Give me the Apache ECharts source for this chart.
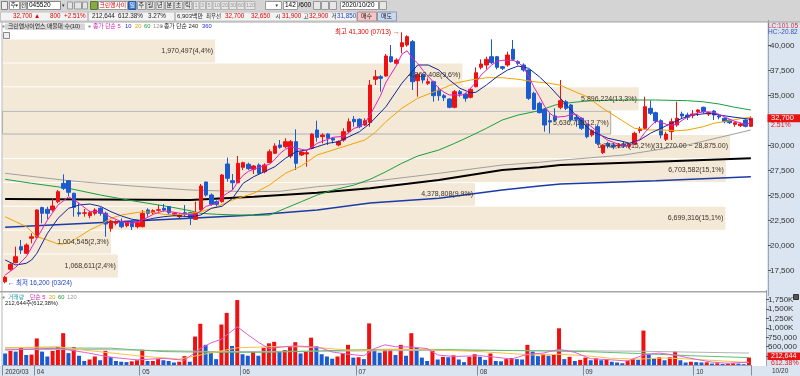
<!DOCTYPE html>
<html><head><meta charset="utf-8">
<script src="https://cdn.jsdelivr.net/npm/echarts/dist/echarts.min.js"></script>
<style>html,body{margin:0;padding:0;background:#fff}#c{width:800px;height:376px}</style>
</head><body><div id="c"></div>
<script>
// ---------- DATA ----------
const tradingDays = [
  ['03',[24,25,26,27,30,31]],
  ['04',[1,2,3,6,7,8,9,10,13,14,16,17,20,21,22,23,24,27,28,29]],
  ['05',[4,6,7,8,11,12,13,14,15,18,19,20,21,22,25,26,27,28,29]],
  ['06',[1,2,3,4,5,8,9,10,11,12,15,16,17,18,19,22,23,24,25,26,29,30]],
  ['07',[1,2,3,6,7,8,9,10,13,14,15,16,17,20,21,22,23,24,27,28,29,30,31]],
  ['08',[3,4,5,6,7,10,11,12,13,14,18,19,20,21,24,25,26,27,28,31]],
  ['09',[1,2,3,4,7,8,9,10,11,14,15,16,17,18,21,22,23,24,25,28,29]],
  ['10',[5,6,7,8,12,13,14,15,16,19,20]]
];
const opens = [16350,17600,18260,19860,19200,20700,20800,23770,23600,23530,
24360,26200,26460,25200,23260,23200,22960,23200,23700,23200,
21700,22200,22360,21960,22360,21860,21860,23530,23260,23500,
23700,23860,23030,22860,23260,23260,22600,23530,26330,25030,
24360,24360,28130,26460,26260,27800,28100,27600,28030,27360,
28260,29200,30030,29860,28930,30360,29030,29130,29700,31530,
30860,31130,30700,30030,30530,31360,32600,32600,32030,32300,
36600,36860,36930,38860,38200,39860,40030,40360,36460,37100,
36200,36360,35530,34960,34630,33800,35360,35130,34800,35860,
37800,38030,38860,38860,37860,38030,39600,38360,38030,37530,
35200,34200,33600,32460,32930,33800,34360,34030,32800,32700,
32030,31030,31860,29260,30200,30030,29930,30130,29900,30130,
31460,31700,33700,33260,32460,30600,31360,32030,33130,33030,
33000,33360,33800,33130,33430,32930,32700,32530,32100,31960,
32530,31900];
const highs = [16950,18200,19860,20530,20200,21200,23600,23860,23860,24700,
25530,27100,26530,25260,24200,23630,23460,23700,23800,23360,
22530,22500,22700,22400,22530,22400,23530,23700,23600,24030,
24130,23930,23300,23200,24030,23360,24360,26130,26360,25200,
24500,27130,28760,27130,28930,28360,28260,28030,28200,28200,
29600,30200,30530,30700,30530,31600,29400,29530,31200,32460,
31200,31200,30800,30500,31700,32700,32930,32700,32700,36530,
37530,37030,39130,40030,38700,41300,41000,40530,37200,37200,
36700,36460,35860,35130,34700,35530,35530,35260,35700,37800,
38600,38860,40600,38930,37930,39360,40530,38500,38200,37600,
35360,34360,33700,33200,33700,36530,34530,34130,33030,32800,
32200,31600,32030,30100,30360,30200,30200,30360,30260,31360,
31860,34860,34460,33360,32600,31360,32700,34360,33360,33260,
33530,33600,33860,33360,33530,33030,32800,32600,32360,32260,
32600,32900];
const lows = [16200,17460,18200,19130,19130,20200,20700,22200,22630,23360,
24200,25530,24930,22860,22860,22860,22700,23000,22960,20860,
21360,22000,21700,21800,21530,21700,21800,22860,23100,23360,
23360,23130,22900,22700,22860,22030,22530,23360,24860,23960,
23900,24260,26360,25530,26200,27530,27530,27130,27100,27200,
28200,29130,29660,29700,28700,27530,28930,27860,29600,30360,
30200,30030,30200,29900,30360,31200,31860,31700,31930,31860,
36030,35360,36860,38260,38030,39200,39860,35530,34860,36200,
36030,34360,34460,34430,33700,33700,34860,34360,34700,35800,
37600,37600,38130,37600,37530,37860,38460,38000,37360,34530,
33530,33200,31360,31200,32360,33600,33530,32360,31860,31530,
30700,30860,30030,29130,29700,29600,29700,29760,29700,30030,
31200,31530,33030,32200,30700,30430,30530,31860,32700,32530,
32700,32930,33200,32930,32530,32600,32200,32130,31860,31830,
31800,31850];
const closes = [16800,18100,18860,19530,20030,20850,23530,23200,23200,23930,
25360,25700,25300,23800,23130,23250,23260,23530,23200,22130,
22430,22360,21860,22300,21860,22260,23200,23200,23460,23560,
23530,23260,23200,23030,23130,22700,23260,25930,25030,24100,
24100,27030,26700,26260,28200,28260,27660,27930,27200,28030,
29360,29930,29800,30360,30360,28200,29330,29260,31130,30800,
31030,30700,30530,30360,31360,32360,32360,31860,32460,36030,
36860,36700,38930,38360,38530,40260,40860,36360,37100,36530,
36360,34960,34960,34760,33800,35360,35130,34700,35600,37260,
38130,38600,38260,37800,37700,39030,38600,38200,37530,34700,
33600,33260,32030,32330,32530,34460,33700,32530,32600,31700,
30860,31460,30200,30030,29930,29860,30030,29900,30100,31200,
31630,33860,33200,32430,31030,31130,32360,32700,32930,32800,
33130,33530,33360,33260,33030,32830,32360,32260,32260,32130,
31900,32700];
const volumes = [320000,390000,370000,480000,280000,290000,720000,370000,240000,390000,
490000,860000,330000,490000,260000,120000,160000,240000,140000,390000,
230000,120000,100000,90000,110000,140000,420000,120000,120000,170000,
140000,120000,80000,100000,250000,100000,770000,1110000,550000,340000,
170000,1090000,1400000,520000,1740000,300000,260000,370000,260000,470000,
590000,630000,370000,410000,500000,620000,320000,370000,740000,510000,
300000,240000,180000,240000,330000,550000,210000,220000,170000,1120000,
430000,340000,430000,440000,280000,550000,260000,860000,470000,210000,
120000,390000,160000,230000,220000,270000,160000,90000,230000,300000,
230000,150000,320000,120000,110000,170000,200000,170000,160000,550000,
370000,250000,310000,260000,280000,990000,170000,230000,120000,150000,
210000,140000,190000,140000,160000,100000,80000,60000,130000,170000,
150000,930000,300000,190000,220000,140000,220000,370000,140000,80000,
100000,90000,80000,85000,50000,60000,40000,50000,60000,50000,
34724,212644];

// moving averages: [candle index, value]
const ma5 = [[0,17030],[2,17800],[4,18860],[6,20700],[8,22530],[10,24030],[12,24860],[14,24200],[16,23360],[18,23400],[20,22800],[22,22360],[24,22200],[26,22530],[28,23100],[30,23450],[32,23300],[34,23130],[36,23030],[38,23900],[40,24200],[41,24860],[42,25200],[43,25530],[44,26360],[45,27000],[46,27400],[48,27800],[50,28100],[51,28600],[52,29200],[53,29600],[54,29860],[56,29600],[57,29500],[58,29800],[59,30200],[60,30400],[62,30800],[64,30900],[65,31300],[66,31700],[67,31860],[68,32200],[69,33030],[70,34000],[71,35000],[72,36300],[74,38000],[75,39100],[76,39450],[77,38700],[78,38200],[79,37500],[81,36300],[82,35700],[83,35300],[84,35030],[85,35030],[86,35000],[87,35100],[88,35700],[89,36300],[90,37030],[92,38030],[93,38400],[94,38500],[96,38500],[97,38300],[98,37800],[99,36900],[100,35800],[101,34900],[102,33900],[103,33200],[104,32800],[106,32900],[107,33100],[108,33100],[109,32700],[110,32200],[111,31800],[112,31360],[113,30850],[114,30500],[115,30300],[116,30100],[117,30000],[118,30000],[119,30250],[120,30600],[121,31300],[122,31900],[123,32400],[124,32300],[125,32100],[126,32000],[127,32100],[128,32500],[129,32800],[130,33050],[131,33250],[132,33350],[133,33350],[134,33300],[135,33100],[136,32850],[137,32600],[138,32400],[139,32250],[140,32100],[141,32250]];
const ma10 = [[0,18530],[2,18030],[4,18200],[5,18530],[6,19200],[8,21200],[10,22700],[12,23700],[14,24030],[16,24130],[18,23900],[20,23360],[22,22930],[24,22600],[26,22460],[28,22700],[30,22860],[32,22960],[35,22860],[37,23030],[39,23700],[41,23900],[43,24700],[45,26200],[47,26860],[49,27360],[51,27860],[53,28700],[55,29360],[57,29530],[59,29860],[61,30200],[63,30360],[65,30860],[67,31360],[69,32200],[72,33860],[75,36200],[78,38030],[80,38030],[82,37530],[84,36530],[86,35700],[88,35260],[89,35300],[91,36030],[93,36860],[95,37530],[97,37930],[99,37700],[101,36860],[103,35860],[105,34700],[107,33530],[109,32360],[111,31360],[114,30700],[117,30360],[118,30200],[120,30530],[122,31200],[124,31700],[126,32200],[128,32700],[130,33030],[133,33200],[135,33030],[138,32800],[141,32600]];
const ma20 = [[0,22860],[2,22360],[4,21860],[6,20860],[8,20530],[10,20130],[12,20200],[14,20860],[16,21530],[18,22030],[20,22700],[22,23030],[24,23200],[26,23360],[28,23300],[30,23100],[32,23050],[34,23100],[37,23360],[40,23860],[43,24530],[47,25200],[50,26030],[53,27200],[56,27930],[59,29030],[62,29530],[65,30030],[68,30530],[70,31300],[72,32360],[75,33700],[78,34700],[82,35530],[85,36200],[88,36530],[91,36760],[94,36760],[97,36600],[100,36360],[103,36200],[105,36000],[107,35530],[110,34860],[113,33700],[117,32360],[119,31700],[122,31530],[124,31530],[127,31460],[129,31530],[132,31860],[134,32200],[137,32460],[139,32660],[141,32800]];
const ma60 = [[0,26600],[5,26200],[12,25700],[18,25030],[24,24460],[31,23860],[35,23460],[37,23200],[40,23100],[44,23030],[47,23000],[50,23030],[53,23700],[56,24360],[59,25030],[62,25530],[66,26030],[69,26600],[72,27360],[75,28200],[78,28930],[82,29530],[85,30200],[88,30930],[91,31700],[94,32530],[97,33030],[101,33460],[104,34030],[107,34270],[110,34430],[116,34530],[123,34530],[129,34460],[132,34350],[135,34130],[138,33800],[141,33530]];
const ma120 = [[0,27200],[12,26460],[24,25930],[35,25530],[46,25360],[52,25400],[59,25860],[65,26130],[69,26360],[82,27200],[94,28030],[101,28300],[104,28460],[117,29030],[129,30030],[141,31530]];
const ma240 = [[0,24630],[35,24530],[47,24860],[59,25260],[69,25700],[82,26530],[94,27530],[101,27800],[105,28030],[123,28360],[141,28700]];
const ma360 = [[0,21800],[35,22700],[47,23030],[59,23530],[69,24230],[82,24700],[94,25530],[101,25930],[105,26130],[123,26460],[141,26860]];

const vma5 = [[0,410000],[10,460000],[15,350000],[20,220000],[25,150000],[30,190000],[34,140000],[37,450000],[39,600000],[41,700000],[44,1030000],[46,820000],[48,620000],[50,450000],[53,500000],[55,520000],[58,500000],[60,460000],[62,360000],[65,300000],[68,260000],[70,450000],[72,550000],[74,500000],[77,490000],[80,450000],[82,280000],[85,240000],[90,260000],[93,220000],[96,170000],[99,300000],[102,330000],[105,430000],[108,350000],[111,180000],[115,150000],[118,120000],[121,280000],[124,330000],[127,280000],[130,190000],[134,90000],[137,60000],[141,90000]];
const vma20 = [[0,470000],[10,500000],[15,410000],[25,260000],[33,170000],[37,280000],[44,470000],[50,500000],[55,500000],[60,470000],[65,410000],[70,410000],[74,430000],[80,420000],[90,370000],[100,280000],[105,300000],[110,260000],[115,190000],[120,170000],[125,200000],[130,170000],[141,80000]];
const vma60 = [[0,470000],[20,460000],[30,370000],[40,350000],[50,350000],[60,390000],[70,430000],[80,430000],[90,410000],[100,390000],[110,370000],[120,320000],[130,260000],[141,210000]];
const vma120 = [[0,430000],[20,420000],[40,370000],[60,380000],[80,400000],[100,400000],[120,380000],[141,330000]];

// volume-at-price bands (매물대)
const bandEdges = [16730,19120,21510,23900,26290,28680,31070,33460,35850,38240,40630];
const bandVolumes = [1068611,1004545,6699316,4378808,6703582,6742107,5636710,5896224,4263408,1970497];
const bandLabels = ['1,068,611(2,4%)','1,004,545(2,3%)','6,699,316(15,1%)','4,378,808(9,9%)','6,703,582(15,1%)',
  '6,742,107(15,2%)(31,270.00 ~ 28,875.00)','5,636,710(12,7%)','5,896,224(13,3%)','4,263,408(9,6%)','1,970,497(4,4%)'];
const currentBand = 6;
const priceTicks = [17500,20000,22500,25000,27500,30000,35000,37500,40000];
const volumeTicks = [500000,750000,1000000,1250000,1500000,1750000];

// ---------- BUILD ----------
const dates = [];
tradingDays.forEach(([m, ds]) => ds.forEach(d => dates.push('2020/' + m + '/' + String(d).padStart(2,'0'))));
const monthStart = (i) => i === 0 || dates[i].slice(5,7) !== dates[i-1].slice(5,7);

const RED = '#ee1111', BLUE = '#1a5bd0';
const FONT = '"Liberation Sans", "Noto Sans CJK KR", "DejaVu Sans", sans-serif';

const candleData = opens.map((o,i) => [o, closes[i], lows[i], highs[i]]);
const volData = volumes.map((v,i) => ({value: v, itemStyle: {color: (i > 0 && v >= volumes[i-1]) ? RED : BLUE}}));
const bandData = bandVolumes.map((v,i) => [v, bandEdges[i], bandEdges[i+1]]);

const GL = 2.5, GR = 46.5;
const chart = echarts.init(document.getElementById('c'), null, {renderer: 'canvas'});

function maLine(name, data, color, width, xi, yi, z) {
  return {name, type: 'line', xAxisIndex: xi, yAxisIndex: yi, data, showSymbol: false, symbol: 'none',
    connectNulls: true, lineStyle: {color, width}, z: z || 3, silent: true, animation: false};
}

const option = {
  animation: false,
  backgroundColor: '#ffffff',
  grid: [
    {left: GL, right: GR, top: 20.3, height: 275},
    {left: GL, right: GR, top: 290.3, height: 75.2},
    {left: GL, right: GR, top: 20.3, height: 275}
  ],
  xAxis: [
    {type: 'category', gridIndex: 0, data: dates, show: false, boundaryGap: true},
    {type: 'category', gridIndex: 1, data: dates, boundaryGap: true, z: 60,
      axisLine: {lineStyle: {color: '#9aa8b8'}},
      axisTick: {show: true, interval: (i) => monthStart(i), length: 10, lineStyle: {color: '#7f8c9c'}},
      axisLabel: {interval: (i) => monthStart(i), align: 'left', margin: 3, fontSize: 6.5, fontFamily: FONT, color: '#333',
        formatter: (v, i) => i === 0 ? '2020/03' : v.slice(5,7)},
      splitLine: {show: false}},
    {type: 'value', gridIndex: 2, min: 0, max: 6960000, show: false}
  ],
  yAxis: [
    {type: 'value', gridIndex: 0, position: 'right', offset: 14.5, min: 15000, max: 42500, interval: 2500, z: 60,
      splitLine: {show: false},
      axisLine: {show: true, lineStyle: {color: '#8f9cab', type: 'dotted'}},
      axisTick: {show: true, length: 3, lineStyle: {color: '#555'}},
      axisLabel: {fontSize: 8, fontFamily: FONT, color: '#333', margin: 2, showMinLabel: false, showMaxLabel: false,
        formatter: (v) => priceTicks.includes(v) ? v.toLocaleString('en-US') : ''}},
    {type: 'value', gridIndex: 1, position: 'right', offset: 14.5, min: 0, max: 2000000, interval: 250000, z: 60,
      splitLine: {show: false},
      axisLine: {show: true, lineStyle: {color: '#8f9cab', type: 'dotted'}},
      axisTick: {show: true, length: 3, lineStyle: {color: '#555'}},
      axisLabel: {fontSize: 8, fontFamily: FONT, color: '#333', margin: 2, showMinLabel: false, showMaxLabel: false,
        formatter: (v) => volumeTicks.includes(v) ? (v >= 1000000 ? (v/1000).toLocaleString('en-US') + 'K' : v.toLocaleString('en-US')) : ''}},
    {type: 'value', gridIndex: 2, min: 15000, max: 42500, show: false}
  ],
  series: [
    {type: 'custom', name: 'bands', xAxisIndex: 2, yAxisIndex: 2, data: bandData, z: 1, silent: true,
      renderItem: (params, api) => {
        const p0 = api.coord([0, api.value(2)]);
        const p1 = api.coord([api.value(0), api.value(1)]);
        const cur = params.dataIndex === currentBand;
        return {type: 'rect', shape: {x: p0[0], y: p0[1] + 0.5, width: p1[0] - p0[0], height: p1[1] - p0[1] - 1},
          style: {fill: '#f4e8d6', stroke: cur ? '#a8a8a8' : null, lineWidth: 1}};
      }},
    maLine('MA360', ma360, '#1a3aa8', 1.5, 0, 0, 2),
    maLine('MA240', ma240, '#000000', 2, 0, 0, 2),
    maLine('MA120', ma120, '#a0a0a0', 1, 0, 0, 2),
    maLine('MA60', ma60, '#16a040', 1, 0, 0, 2),
    {type: 'candlestick', name: 'price', xAxisIndex: 0, yAxisIndex: 0, data: candleData, barWidth: 4, z: 3,
      itemStyle: {color: RED, color0: BLUE, borderColor: RED, borderColor0: BLUE, borderWidth: 1},
      markPoint: {symbol: 'rect', symbolSize: 1, itemStyle: {color: 'rgba(0,0,0,0)'}, silent: true,
        data: [
          {coord: [dates[75], 41300], label: {show: true, position: 'left', distance: 2, formatter: '최고 41,300 (07/13) →', color: '#e00000', fontSize: 6.5, fontFamily: FONT}},
          {coord: [dates[0], 16200], label: {show: true, position: 'right', distance: 2, formatter: '← 최저 16,200 (03/24)', color: '#1a3fc0', fontSize: 6.5, fontFamily: FONT}}
        ]}},
    maLine('MA20', ma20, '#f0a400', 1, 0, 0, 4),
    maLine('MA10', ma10, '#13279a', 1, 0, 0, 4),
    maLine('MA5', ma5, '#e020c0', 1, 0, 0, 4),
    {type: 'custom', name: 'bandLabels', xAxisIndex: 2, yAxisIndex: 2, data: bandData, z: 5, silent: true,
      renderItem: (params, api) => {
        const p0 = api.coord([0, api.value(2)]);
        const p1 = api.coord([api.value(0), api.value(1)]);
        return {type: 'text', style: {text: bandLabels[params.dataIndex], x: p1[0] - 2, y: (p0[1] + p1[1]) / 2,
          align: 'right', verticalAlign: 'middle', font: '7px ' + FONT, fill: '#3a3428'}};
      }},
    {type: 'bar', name: 'volume', xAxisIndex: 1, yAxisIndex: 1, data: volData, barWidth: 4, z: 2},
    maLine('VMA120', vma120, '#b4b4b4', 1, 1, 1, 3),
    maLine('VMA60', vma60, '#60c070', 1, 1, 1, 3),
    maLine('VMA20', vma20, '#f8c24a', 1, 1, 1, 3),
    maLine('VMA5', vma5, '#e060d0', 1, 1, 1, 3)
  ]
};
chart.setOption(option);

// ---------- DECORATION (HTS frame) ----------
function T(x, y, text, fill, size, extra) {
  return Object.assign({type: 'text', x, y, z: 80, silent: true,
    style: {text, fill: fill || '#222', font: (size || 7) + 'px ' + FONT, verticalAlign: 'middle', align: 'left'}}, extra || {});
}
function R(x, y, w, h, fill, stroke, z) {
  return {type: 'rect', z: z == null ? 70 : z, silent: true, shape: {x, y, width: w, height: h},
    style: {fill: fill || 'none', stroke: stroke || null, lineWidth: 1}};
}
const els = [];
// toolbar background
els.push(R(0, 0, 800, 22, '#d4d4d4', null, 1));
els.push(R(0, 21.5, 800, 1, '#a4a4a4', null, 2));
// row 1
els.push(R(1.5, 1.5, 6, 8, '#ececec', '#808080'));
els.push(R(9.5, 1.5, 10, 8, '#fff', '#999')); els.push(T(10.5, 5.5, '주', '#222', 6)); els.push(T(15.5, 5.5, '▾', '#333', 5));
els.push(R(20.5, 1.5, 6, 8, '#e8e8e8', '#999')); els.push(T(21, 5.5, '전', '#222', 5.5));
els.push(R(27.5, 1.5, 33, 8, '#fff', '#888')); els.push(T(29, 5.5, '045520', '#000', 6.5));
els.push(T(62, 5.5, '▾', '#333', 5));
els.push(R(67.5, 2, 5, 7, '#e4e4e4', '#999')); els.push(R(74.5, 2, 7, 7, '#e4e4e4', '#999')); els.push(R(82.5, 2, 5, 7, '#e4e4e4', '#999'));
els.push(R(90.5, 1.5, 7, 8, '#86aa44', '#5a7a30'));
els.push(R(98.5, 1.5, 29, 8, '#fff', '#999')); els.push(T(99.5, 5.5, '크린앤사이', '#d00000', 5.8));
els.push(R(128.5, 1.5, 7.5, 8, '#3a78d0', '#2a5aa0')); els.push(T(129.5, 5.5, '일', '#fff', 6));
['주','월','년','분','초','틱'].forEach((ch, k) => { const x = 137.5 + k * 9.3; els.push(R(x, 1.5, 8, 8, '#e6e6e6', '#9a9a9a')); els.push(T(x + 1, 5.5, ch, '#222', 6)); });
[['1',193.5,5.5],['3',200,5.5],['5',206.5,5.5],['10',213,7.5],['20',221,7.5],['30',229,7.5],['60',237,7.5],['120',245,10]].forEach(([t, x, w]) => {
  els.push(R(x, 1.5, w, 8, '#e6e6e6', '#b4b4b4')); els.push(T(x + 1, 5.5, t, '#9a9a9a', 5.5));
});
els.push(R(265.5, 1.5, 16, 8, '#fff', '#999')); els.push(T(275.5, 5.5, '▾', '#333', 5));
els.push(R(283.5, 1.5, 14, 8, '#fff', '#999')); els.push(T(285, 5.5, '142', '#000', 6.5)); els.push(T(298.5, 5.5, '/600', '#000', 6.5));
els.push(R(313.5, 1.5, 7, 8, '#e6e6e6', '#999')); els.push(R(321.5, 1.5, 7, 8, '#e6e6e6', '#999')); els.push(R(329.5, 1.5, 7, 8, '#e6e6e6', '#999'));
els.push(R(340.5, 1.5, 38, 8, '#fff', '#999')); els.push(T(342, 5.5, '2020/10/20', '#000', 6.5));
els.push(R(379.5, 1.5, 7, 8, '#e6e6e6', '#999'));
// row 2
els.push(R(0.5, 12, 87, 9, '#f3f3f3', '#c4c4c4')); els.push(R(88.5, 12, 86, 9, '#f3f3f3', '#c4c4c4')); els.push(R(175.5, 12, 181, 9, '#f3f3f3', '#c4c4c4'));
els.push(T(13, 16.5, '32,700 ▲', '#e00000', 6.3)); els.push(T(50, 16.5, '800', '#e00000', 6.3)); els.push(T(64, 16.5, '+2.51%', '#e00000', 6.3));
els.push(T(92, 16.5, '212,644', '#222', 6.3)); els.push(T(118, 16.5, '612.38%', '#222', 6.3)); els.push(T(148, 16.5, '3.27%', '#222', 6.3));
els.push(T(177, 16.5, '6,903백만', '#222', 6)); els.push(T(206, 16.5, '최우선', '#222', 5.5));
els.push(T(225, 16.5, '32,700', '#e00000', 6.3)); els.push(T(251, 16.5, '32,650', '#e00000', 6.3));
els.push(T(275.5, 16.5, '시', '#222', 5.5)); els.push(T(282, 16.5, '31,900', '#e00000', 6.3));
els.push(T(303.5, 16.5, '고', '#222', 5.5)); els.push(T(309, 16.5, '32,900', '#e00000', 6.3));
els.push(T(331.5, 16.5, '저', '#222', 5.5)); els.push(T(337, 16.5, '31,850', '#1a3fc0', 6.3));
els.push(R(357.5, 12, 19, 9, '#f4c6c6', '#b09090')); els.push(T(361, 16.5, '매수', '#222', 6));
els.push(R(377.5, 12, 19, 9, '#c9d9f3', '#9098b0')); els.push(T(381, 16.5, '매도', '#222', 6));
// right axis panel and bottom strip
els.push(R(767, 22, 33, 354, '#dbe5f1', null, 1));
els.push(R(0, 366, 767, 10, '#dbe5f1', null, 1));
els.push(R(1.5, 22, 1, 344, '#b8b8b8', null, 2));
els.push(R(0, 291, 767, 1.5, '#a6a6a6', null, 6));
els.push(T(768, 26.5, 'LC:101.05', '#d03030', 6.5));
els.push(T(768, 32.5, 'HC:-20.82', '#3050c0', 6.5));
els.push(T(772, 371, '10/20', '#333', 6.5));
els.push(R(793.5, 294.5, 5, 5, '#555', '#333'));
// legends
els.push(R(5, 23.5, 80, 6.5, '#d6d6d6', null, 60));
els.push(R(2.5, 25.5, 2, 2, '#888', null)); els.push(T(8, 26.8, '크린앤사이언스 매물대 수(10)', '#222', 5.8));
els.push(R(88.5, 25.5, 2, 2, '#888', null));
els.push(T(93, 26.8, '종가 단순 5', '#d81cb8', 5.8)); els.push(T(125, 26.8, '10', '#2030c0', 5.8)); els.push(T(135, 26.8, '20', '#e8a000', 5.8));
els.push(T(144, 26.8, '60', '#18a040', 5.8)); els.push(T(153, 26.8, '120', '#999', 5.8));
els.push(R(160.5, 25.5, 2, 2, '#888', null)); els.push(T(164, 26.8, '종가 단순 240', '#222', 5.8)); els.push(T(202, 26.8, '360', '#2030d0', 5.8));
els.push(R(3.5, 32.5, 6, 6, '#eee', '#888'));
els.push(R(2.5, 296.5, 2, 2, '#888', null));
els.push(T(8, 297.5, '거래량', '#2aa0b0', 5.8)); els.push(T(30, 297.5, '단순 5', '#d81cb8', 5.8)); els.push(T(49, 297.5, '20', '#e8a000', 5.8));
els.push(T(58, 297.5, '60', '#18a040', 5.8)); els.push(T(67, 297.5, '120', '#999', 5.8));
els.push(T(5, 303.5, '212,644주(612,38%)', '#222', 5.8));
// current price & volume tags
const lastClose = closes[closes.length - 1];
const lastVol = volumes[volumes.length - 1];
const py = chart.convertToPixel({yAxisIndex: 0}, lastClose);
const vy = chart.convertToPixel({yAxisIndex: 1}, lastVol);
els.push(R(767.5, py - 4, 32.5, 8, '#e81414', null, 85)); els.push(T(771, py, lastClose.toLocaleString('en-US'), '#fff', 7.5, {z: 90}));
els.push(T(771, py + 7, '2.51%', '#e81414', 7, {z: 90}));
els.push(R(767.5, vy - 5, 32.5, 7.5, '#e81414', null, 85)); els.push(T(771, vy - 1.3, lastVol.toLocaleString('en-US'), '#fff', 7, {z: 90}));
els.push(T(771, vy + 6, '612.38%', '#e81414', 7, {z: 90}));
chart.setOption({graphic: {elements: els}});
</script></body></html>
